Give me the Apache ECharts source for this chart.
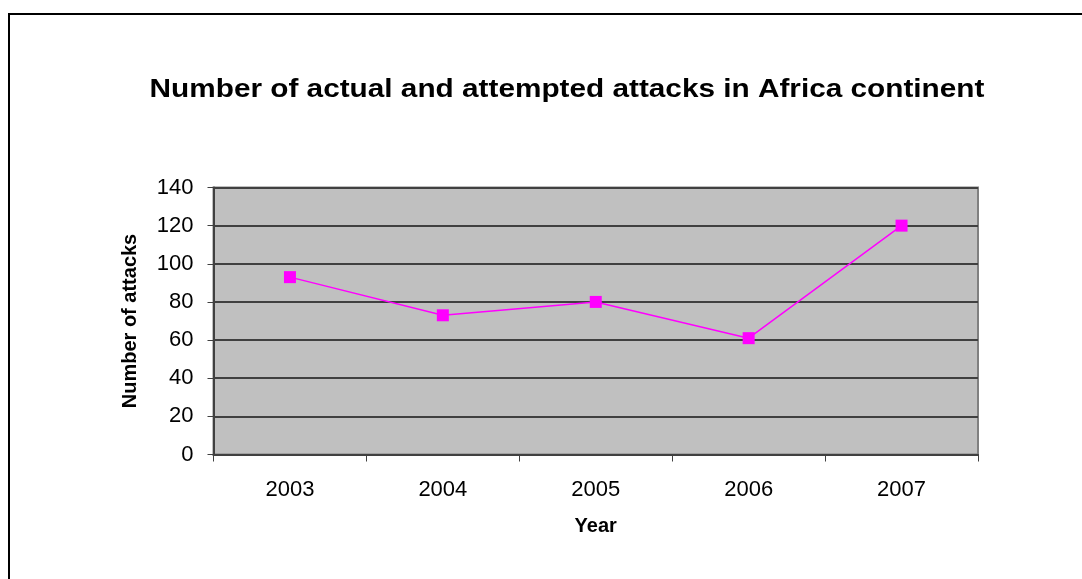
<!DOCTYPE html>
<html><head><meta charset="utf-8">
<script src="https://cdn.jsdelivr.net/npm/echarts@6/dist/echarts.min.js"></script>
<style>html,body{margin:0;padding:0;background:#fff}#c{width:1082px;height:579px}</style>
</head><body><div id="c"></div>
<script>
const titleText = 'Number of actual and attempted attacks in Africa continent';
const categories = ['2003', '2004', '2005', '2006', '2007'];
const attacks = [93, 73, 80, 61, 120];
const xName = 'Year';
const yName = 'Number of attacks';

const chart = echarts.init(document.getElementById('c'), null, {renderer: 'canvas'});
const FONT = 'Liberation Sans, Arial, sans-serif';
chart.setOption({
  animation: false,
  backgroundColor: '#fff',
  graphic: [{
    type: 'rect', shape: {x: 9, y: 14, width: 1200, height: 700},
    style: {fill: 'none', stroke: '#000', lineWidth: 2}, silent: true
  }, {
    type: 'text', x: 567, y: 90, scaleX: 1.19, silent: true,
    style: {
      text: titleText, fill: '#000',
      font: 'bold 25px ' + FONT,
      textAlign: 'center', textVerticalAlign: 'middle'
    }
  }],
  grid: {
    left: 213.5, top: 187.5, right: 104, bottom: 124.5,
    show: true, backgroundColor: '#c0c0c0', borderColor: '#808080', borderWidth: 2
  },
  xAxis: {
    type: 'category', data: categories, boundaryGap: true,
    name: xName, nameLocation: 'middle', nameGap: 62,
    nameTextStyle: {fontFamily: FONT, fontWeight: 'bold', fontSize: 20, color: '#000'},
    axisLine: {lineStyle: {color: '#404040', width: 2}},
    axisTick: {show: true, length: 7, lineStyle: {color: '#404040', width: 1}},
    axisLabel: {fontFamily: FONT, fontSize: 22, color: '#000', margin: 24}
  },
  yAxis: {
    type: 'value', min: 0, max: 140, interval: 20,
    name: yName, nameLocation: 'middle', nameGap: 73, nameRotate: 90,
    nameTextStyle: {fontFamily: FONT, fontWeight: 'bold', fontSize: 20, color: '#000'},
    axisLine: {show: true, lineStyle: {color: '#404040', width: 2}},
    axisTick: {show: true, length: 6, lineStyle: {color: '#404040', width: 1}},
    axisLabel: {fontFamily: FONT, fontSize: 22, color: '#000', margin: 20},
    splitLine: {show: true, lineStyle: {color: '#404040', width: 2}}
  },
  series: [{
    type: 'line', data: attacks,
    symbol: 'rect', symbolSize: 12,
    lineStyle: {color: '#ff00ff', width: 1.5},
    itemStyle: {color: '#ff00ff'}
  }]
});
</script></body></html>
